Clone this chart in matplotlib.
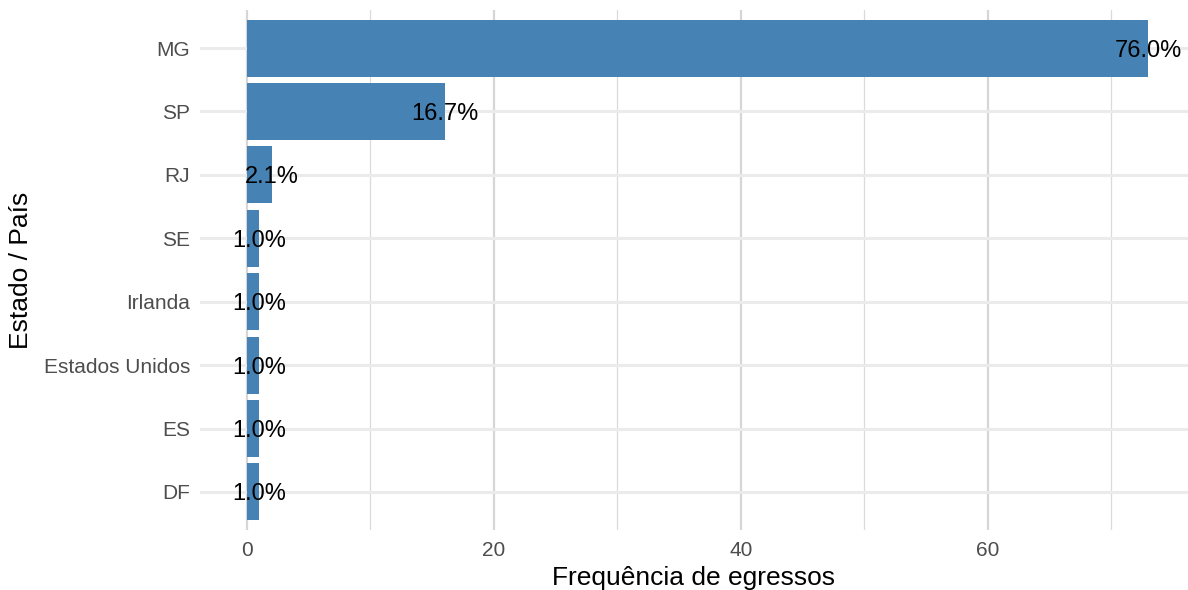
import matplotlib.pyplot as plt
from matplotlib.ticker import MultipleLocator

plt.rcParams['font.family'] = ['Liberation Sans', 'DejaVu Sans']

# dados (de baixo para cima)
estados = ['DF', 'ES', 'Estados Unidos', 'Irlanda', 'SE', 'RJ', 'SP', 'MG']
freq = [1, 1, 1, 1, 1, 2, 16, 73]
rotulos = ['1.0%', '1.0%', '1.0%', '1.0%', '1.0%', '2.1%', '16.7%', '76.0%']

fig = plt.figure(figsize=(11.88, 5.9), dpi=100)
ax = fig.add_axes([200 / 1188, 60 / 590, 988 / 1188, 520 / 590])

pos = list(range(len(estados)))
ax.barh(pos, freq, height=0.9, color='#4682B4', zorder=2)
for p, v, r in zip(pos, freq, rotulos):
    ax.text(v, p, r, ha='center', va='center_baseline', fontsize=17, color='black', zorder=3)

ax.set_xlim(-3.8, 76.2)
ax.set_ylim(-0.6, len(estados) - 0.4)
ax.set_yticks(pos)
ax.set_yticklabels(estados)
ax.xaxis.set_major_locator(MultipleLocator(20))
ax.xaxis.set_minor_locator(MultipleLocator(10))

ax.grid(axis='y', which='major', color='#EBEBEB', linewidth=2.2, zorder=0)
ax.grid(axis='x', which='major', color='#D6D6D6', linewidth=1.6, zorder=0)
ax.grid(axis='x', which='minor', color='#DADADA', linewidth=0.9, zorder=0)

for s in ax.spines.values():
    s.set_visible(False)
ax.tick_params(which='both', length=0, labelsize=15, labelcolor='#4D4D4D')
ax.tick_params(axis='y', pad=7)
ax.tick_params(axis='x', pad=8)

ax.set_xlabel('Frequência de egressos', fontsize=19, labelpad=4)
ax.set_ylabel('Estado / País', fontsize=19, labelpad=8)

fig.savefig('out.png', dpi=100)
